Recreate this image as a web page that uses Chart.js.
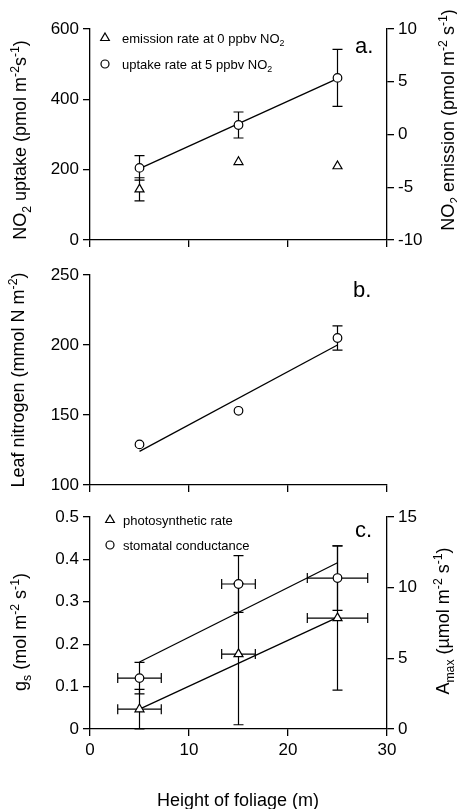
<!DOCTYPE html>
<html>
<head>
<meta charset="utf-8">
<script src="https://cdn.jsdelivr.net/npm/chart.js@4.4.1/dist/chart.umd.min.js"></script>
<style>
  body { margin: 0; background: #fff; }
  #wrap { position: relative; width: 457px; height: 809px; }
  canvas { position: absolute; left: 0; }
</style>
</head>
<body>
<div id="wrap">
  <canvas id="chartA" width="457" height="255" style="top:0px"></canvas>
  <canvas id="chartB" width="457" height="250" style="top:255px"></canvas>
  <canvas id="chartC" width="457" height="309" style="top:500px"></canvas>
</div>
<script>
// data
const heights = [5, 15, 25];
const fitHeights = [5, 25];

// panel a
const uptake = [205, 327, 461];
const uptakeErr = [35, 37, 81];
const uptakeFit = [203, 459];
const emission = [-5.2, -2.6, -3.0];
const emissionErr = [1.1, null, null];

// panel b
const nitrogen = [129, 153, 205];
const nitrogenErr = [null, null, 8.6];
const nitrogenFit = [124, 200];

// panel c
const gs = [0.12, 0.342, 0.356];
const gsErr = [0.037, 0.067, 0.076];
const gsFit = [0.158, 0.392];
const amax = [1.4, 5.3, 7.85];
const amaxErr = [1.4, 5.0, 5.1];
const amaxFit = [1.4, 7.9];
const heightErr = [2.2, 1.7, 3.05];

const FONT = '"Liberation Sans", Arial, Helvetica, sans-serif';
const LW = 1.3;

function pts(xs, ys) {
    return xs.map((x, i) => ({ x: x, y: ys[i] }));
}

function fontFor(p, size) {
    let s = (p[1] === 'sup' || p[1] === 'sub') ? size * 0.68 : size;
    return s + 'px ' + FONT;
}

// draws text with sub/superscripts, centred (or left aligned) on x,y
function drawRich(ctx, parts, x, y, size, rotate, align) {
    ctx.save();
    ctx.translate(x, y);
    if (rotate) ctx.rotate(-Math.PI / 2);
    ctx.fillStyle = '#000';
    ctx.textBaseline = 'alphabetic';
    ctx.textAlign = 'left';
    let widths = parts.map(p => { ctx.font = fontFor(p, size); return ctx.measureText(p[0]).width; });
    let total = widths.reduce((a, b) => a + b, 0);
    let cx = align === 'left' ? 0 : -total / 2;
    parts.forEach((p, i) => {
        ctx.font = fontFor(p, size);
        let dy = p[1] === 'sup' ? -size * 0.4 : (p[1] === 'sub' ? size * 0.25 : 0);
        ctx.fillText(p[0], cx, size * 0.36 + dy);
        cx += widths[i];
    });
    ctx.restore();
}

function marker(ctx, style, x, y, r) {
    ctx.save();
    ctx.strokeStyle = '#000';
    ctx.fillStyle = '#fff';
    ctx.lineWidth = 1.2;
    ctx.beginPath();
    if (style === 'circle') {
        ctx.arc(x, y, r, 0, Math.PI * 2);
    } else {
        ctx.moveTo(x, y - r);
        ctx.lineTo(x + r * 0.866, y + r / 2);
        ctx.lineTo(x - r * 0.866, y + r / 2);
        ctx.closePath();
    }
    ctx.fill();
    ctx.stroke();
    ctx.restore();
}

// error bars (vertical and horizontal) under the markers
function errorBars(list) {
    return {
        id: 'errorBars',
        beforeDatasetsDraw(chart) {
            const ctx = chart.ctx;
            const xs = chart.scales.x;
            ctx.save();
            ctx.strokeStyle = '#000';
            ctx.lineWidth = 1.2;
            list.forEach(e => {
                const ys = chart.scales[e.axis];
                e.x.forEach((xv, i) => {
                    const px = xs.getPixelForValue(xv);
                    const py = ys.getPixelForValue(e.y[i]);
                    if (e.yErr && e.yErr[i]) {
                        const t = ys.getPixelForValue(e.y[i] + e.yErr[i]);
                        const b = ys.getPixelForValue(e.y[i] - e.yErr[i]);
                        ctx.beginPath();
                        ctx.moveTo(px, t); ctx.lineTo(px, b);
                        ctx.moveTo(px - 5, t); ctx.lineTo(px + 5, t);
                        ctx.moveTo(px - 5, b); ctx.lineTo(px + 5, b);
                        ctx.stroke();
                    }
                    if (e.xErr && e.xErr[i]) {
                        const l = xs.getPixelForValue(xv - e.xErr[i]);
                        const r = xs.getPixelForValue(xv + e.xErr[i]);
                        ctx.beginPath();
                        ctx.moveTo(l, py); ctx.lineTo(r, py);
                        ctx.moveTo(l, py - 5); ctx.lineTo(l, py + 5);
                        ctx.moveTo(r, py - 5); ctx.lineTo(r, py + 5);
                        ctx.stroke();
                    }
                });
            });
            ctx.restore();
        }
    };
}

// axis titles, legend and panel letter
function decor(cfg) {
    return {
        id: 'decor',
        afterDraw(chart) {
            const ctx = chart.ctx;
            cfg.titles.forEach(t => drawRich(ctx, t.parts, t.x, t.y, 18, t.rotate, 'center'));
            (cfg.legend || []).forEach(l => {
                marker(ctx, l.style, l.mx, l.y, l.style === 'circle' ? 4 : 5);
                drawRich(ctx, l.parts, l.tx, l.y, 13, false, 'left');
            });
            ctx.save();
            ctx.fillStyle = '#000';
            ctx.font = '22px ' + FONT;
            ctx.textBaseline = 'alphabetic';
            ctx.fillText(cfg.letter.text, cfg.letter.x, cfg.letter.y);
            ctx.restore();
        }
    };
}

function xAxis(showLabels, h) {
    return {
        type: 'linear', min: 0, max: 30,
        border: { color: '#000', width: LW },
        grid: { drawOnChartArea: false, drawTicks: true, tickLength: 7, color: '#000', lineWidth: LW },
        ticks: { stepSize: 10, padding: 4, color: '#000', font: { size: 17 },
                 callback: v => showLabels ? String(v) : '' },
        afterFit: s => { s.height = h; }
    };
}

function yAxis(pos, min, max, step, w, fmt) {
    return {
        type: 'linear', position: pos, min: min, max: max,
        border: { color: '#000', width: LW },
        grid: { drawOnChartArea: false, drawTicks: true, tickLength: 7, color: '#000', lineWidth: LW },
        ticks: { stepSize: step, padding: 4, color: '#000', font: { size: 17 },
                 callback: fmt || (v => String(v)) },
        afterFit: s => { s.width = w; }
    };
}

function fitSet(ys, axis) {
    return { data: pts(fitHeights, ys), yAxisID: axis, showLine: true, pointRadius: 0,
             borderColor: '#000', borderWidth: LW, order: 2 };
}

function pointSet(ys, axis, style) {
    return { data: pts(heights, ys), yAxisID: axis, pointStyle: style,
             pointRadius: style === 'circle' ? 4.3 : 5.2,
             backgroundColor: '#fff', borderColor: '#000', borderWidth: 1.2, order: 1 };
}

const baseOptions = {
    responsive: false,
    animation: false,
    plugins: { legend: { display: false }, tooltip: { enabled: false } }
};

Chart.defaults.font.family = FONT;
Chart.defaults.color = '#000';

// Panel a
new Chart(document.getElementById('chartA'), {
    type: 'scatter',
    data: { datasets: [
        fitSet(uptakeFit, 'y'),
        pointSet(uptake, 'y', 'circle'),
        pointSet(emission, 'y2', 'triangle')
    ] },
    options: Object.assign({}, baseOptions, {
        layout: { padding: { top: 29, left: 0, right: 0, bottom: 0 } },
        scales: {
            x: xAxis(false, 15),
            y: yAxis('left', 0, 600, 200, 90),
            y2: yAxis('right', -10, 10, 5, 70)
        }
    }),
    plugins: [
        errorBars([
            { x: heights, y: uptake, yErr: uptakeErr, axis: 'y' },
            { x: heights, y: emission, yErr: emissionErr, axis: 'y2' }
        ]),
        decor({
            titles: [
                { parts: [['NO'], ['2', 'sub'], [' uptake (pmol m'], ['-2', 'sup'], ['s'], ['-1', 'sup'], [')']], x: 20, y: 140, rotate: true },
                { parts: [['NO'], ['2', 'sub'], [' emission (pmol m'], ['-2', 'sup'], [' s'], ['-1', 'sup'], [')']], x: 448, y: 120, rotate: true }
            ],
            legend: [
                { style: 'triangle', mx: 105, tx: 122, y: 38, parts: [['emission rate at 0 ppbv NO'], ['2', 'sub']] },
                { style: 'circle', mx: 105, tx: 122, y: 64, parts: [['uptake rate at 5 ppbv NO'], ['2', 'sub']] }
            ],
            letter: { text: 'a.', x: 355, y: 53 }
        })
    ]
});

// Panel b
new Chart(document.getElementById('chartB'), {
    type: 'scatter',
    data: { datasets: [
        fitSet(nitrogenFit, 'y'),
        pointSet(nitrogen, 'y', 'circle')
    ] },
    options: Object.assign({}, baseOptions, {
        layout: { padding: { top: 20, left: 0, right: 70, bottom: 0 } },
        scales: {
            x: xAxis(false, 20),
            y: yAxis('left', 100, 250, 50, 90)
        }
    }),
    plugins: [
        errorBars([{ x: heights, y: nitrogen, yErr: nitrogenErr, axis: 'y' }]),
        decor({
            titles: [
                { parts: [['Leaf nitrogen (mmol N m'], ['-2', 'sup'], [')']], x: 18, y: 125, rotate: true }
            ],
            letter: { text: 'b.', x: 353, y: 42 }
        })
    ]
});

// Panel c
new Chart(document.getElementById('chartC'), {
    type: 'scatter',
    data: { datasets: [
        fitSet(gsFit, 'y'),
        fitSet(amaxFit, 'y2'),
        pointSet(gs, 'y', 'circle'),
        pointSet(amax, 'y2', 'triangle')
    ] },
    options: Object.assign({}, baseOptions, {
        layout: { padding: { top: 17, left: 0, right: 0, bottom: 0 } },
        scales: {
            x: xAxis(true, 80),
            y: yAxis('left', 0, 0.5, 0.1, 90, v => String(Math.round(v * 10) / 10)),
            y2: yAxis('right', 0, 15, 5, 70)
        }
    }),
    plugins: [
        errorBars([
            { x: heights, y: gs, yErr: gsErr, xErr: heightErr, axis: 'y' },
            { x: heights, y: amax, yErr: amaxErr, xErr: heightErr, axis: 'y2' }
        ]),
        decor({
            titles: [
                { parts: [['g'], ['s', 'sub'], [' (mol m'], ['-2', 'sup'], [' s'], ['-1', 'sup'], [')']], x: 20, y: 132, rotate: true },
                { parts: [['A'], ['max', 'sub'], [' (\u00b5mol m'], ['-2', 'sup'], [' s'], ['-1', 'sup'], [')']], x: 443, y: 121, rotate: true },
                { parts: [['Height of foliage (m)']], x: 238, y: 300, rotate: false }
            ],
            legend: [
                { style: 'triangle', mx: 110, tx: 123, y: 20, parts: [['photosynthetic rate']] },
                { style: 'circle', mx: 110, tx: 123, y: 45, parts: [['stomatal conductance']] }
            ],
            letter: { text: 'c.', x: 355, y: 37 }
        })
    ]
});
</script>
</body>
</html>
